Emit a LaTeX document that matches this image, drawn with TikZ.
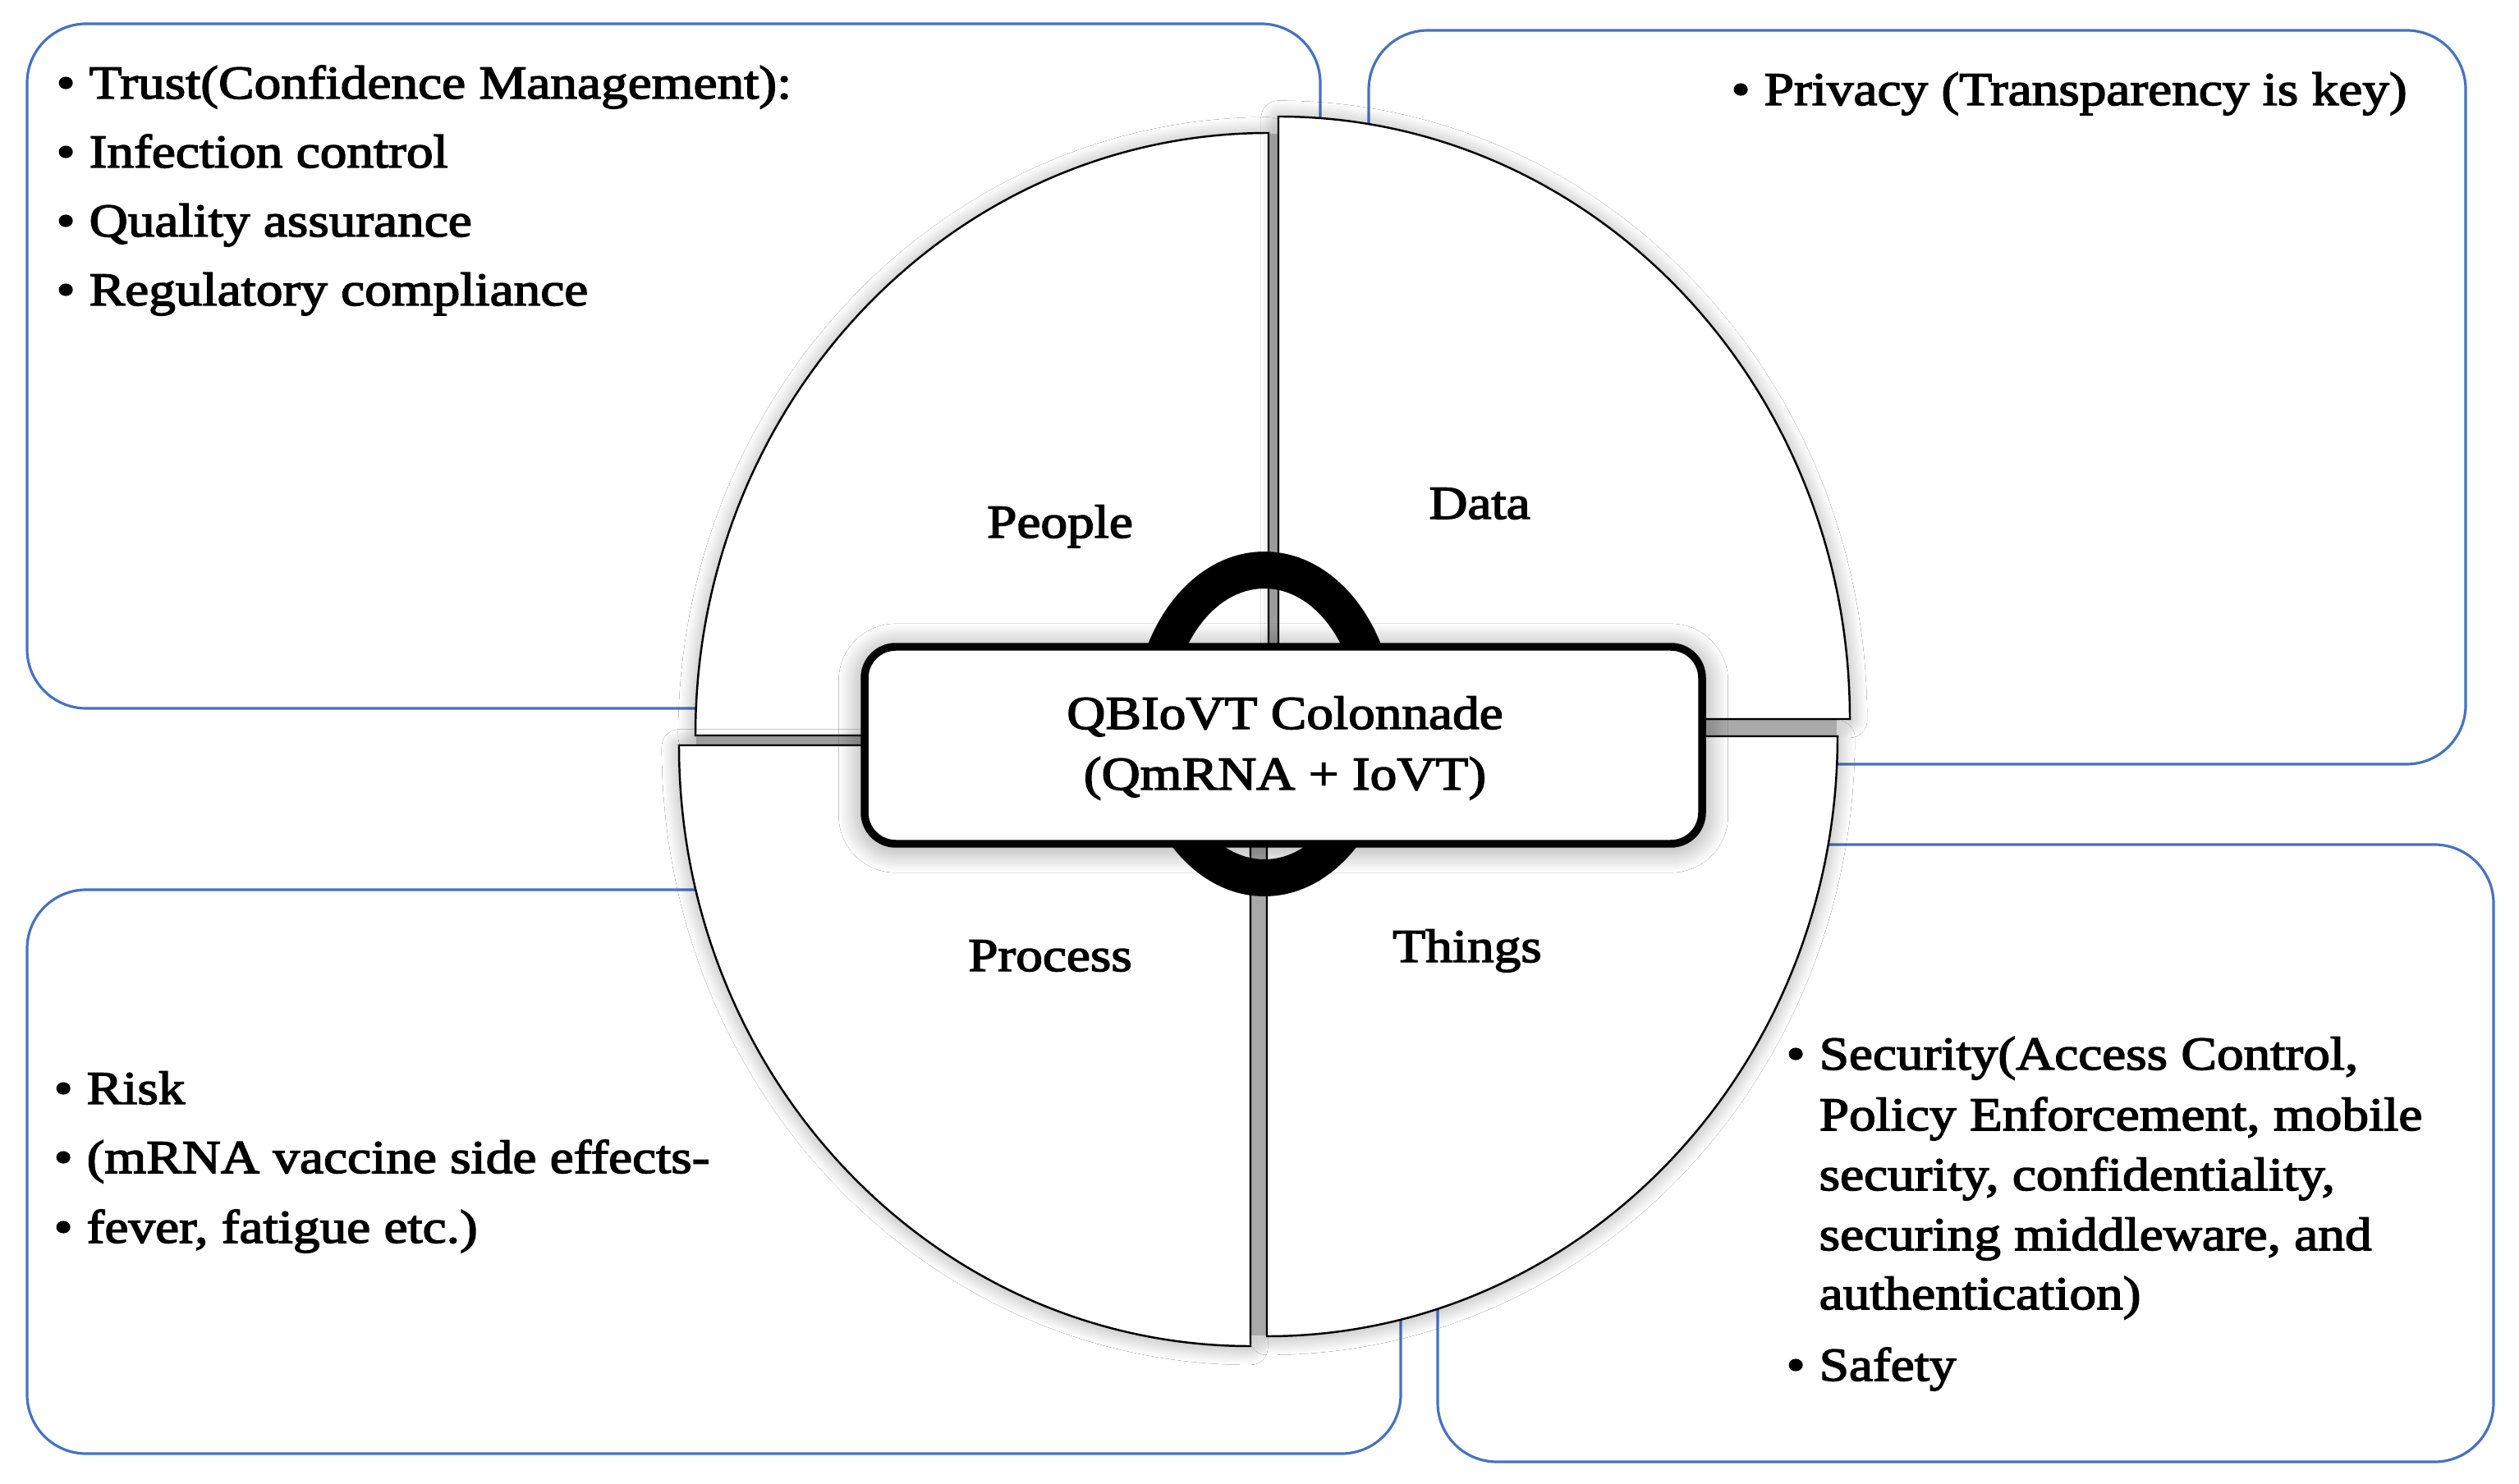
\documentclass[tikz,border=0pt]{standalone}
\usepackage{fontspec}
\setmainfont{Liberation Serif}[FakeStretch=1.14,FakeBold=2.6]
\usetikzlibrary{shadows.blur}
\definecolor{boxblue}{HTML}{4472C4}
\newcommand{\bul}{\makebox[0.40cm][l]{\textbullet}}
\tikzset{
  infobox/.style={draw=boxblue, line width=0.9pt, rounded corners=0.72cm, fill=white},
  gapfill/.style={fill=black!20},
  quad/.style={draw=black, line width=0.7pt, fill=white,
    blur shadow={shadow xshift=0pt, shadow yshift=-0.5pt, shadow blur radius=6pt, shadow blur steps=20, shadow opacity=35}},
  ring/.style={fill=black, even odd rule},
  corebox/.style={draw=black, line width=2.7pt, fill=white, rounded corners=0.38cm,
    minimum width=10.20cm, minimum height=2.40cm, inner sep=0pt,
    blur shadow={shadow xshift=0pt, shadow yshift=-1pt, shadow blur radius=9pt, shadow blur steps=20, shadow opacity=45}},
  txt/.style={inner sep=0pt, font=\fontsize{16.3}{20}\selectfont},
  item/.style={txt, anchor=base west},
  label/.style={txt, anchor=base},
}
\begin{document}
\begin{tikzpicture}
\useasboundingbox (0,0) rectangle (30.68,-18.08);
\fill[white] (0,0) rectangle (30.68,-18.08);

% outer information boxes
\draw[infobox] (0.33,-0.29) rectangle (16.08,-8.63);
\draw[infobox] (16.67,-0.37) rectangle (30.03,-9.31);
\draw[infobox] (0.33,-10.84) rectangle (17.06,-17.71);
\draw[infobox] (17.51,-10.29) rectangle (30.37,-17.81);

% quadrant centres
\coordinate (cP) at (15.45,-8.96);
\coordinate (cD) at (15.57,-8.76);
\coordinate (cR) at (15.23,-9.08);
\coordinate (cT) at (15.43,-8.97);

% gaps between quadrants
\fill[gapfill] (15.44,-1.63) rectangle (15.58,-8.97);
\fill[gapfill] (15.56,-8.75) rectangle (22.37,-8.98);
\fill[gapfill] (8.48,-8.95) rectangle (15.46,-9.09);
\fill[gapfill] (15.22,-9.07) rectangle (15.44,-16.27);

% quadrants
\path[quad] (cP) ++(-6.98,0) arc[start angle=180, end angle=90, x radius=6.98cm, y radius=7.34cm] -- (cP) -- cycle;
\path[quad] (cD) ++(0,7.34) arc[start angle=90, end angle=0, x radius=6.96cm, y radius=7.34cm] -- (cD) -- cycle;
\path[quad] (cR) ++(-6.96,0) arc[start angle=180, end angle=270, x radius=6.96cm, y radius=7.32cm] -- (cR) -- cycle;
\path[quad] (cT) ++(6.95,0) arc[start angle=0, end angle=-90, x radius=6.95cm, y radius=7.31cm] -- (cT) -- cycle;

% ring
\coordinate (rc) at (15.40,-8.82);
\fill[ring] (rc) ellipse [x radius=1.60cm, y radius=2.10cm] (rc) ellipse [x radius=1.15cm, y radius=1.65cm];

% core box
\node[corebox] (core) at (15.63,-9.08) {};
\node[label] (core1) at (15.65,-8.88) {QBIoVT Colonnade};
\node[label] (core2) at (15.65,-9.62) {(QmRNA + IoVT)};

% quadrant labels
\node[label] (people) at (12.91,-6.55) {People};
\node[label] (data) at (18.02,-6.32) {Data};
\node[label] (process) at (12.79,-11.83) {Process};
\node[label] (things) at (17.87,-11.72) {Things};

% top-left list
\node[item] (tl1) at (0.68,-1.20) {\bul Trust(Confidence Management):};
\node[item] (tl2) at (0.68,-2.04) {\bul Infection control};
\node[item] (tl3) at (0.68,-2.88) {\bul Quality assurance};
\node[item] (tl4) at (0.68,-3.72) {\bul Regulatory compliance};

% top-right list
\node[item] (tr1) at (21.08,-1.28) {\bul Privacy (Transparency is key)};

% bottom-left list
\node[item] (bl1) at (0.65,-13.45) {\bul Risk};
\node[item] (bl2) at (0.65,-14.29) {\bul (mRNA vaccine side effects-};
\node[item] (bl3) at (0.65,-15.14) {\bul fever, fatigue etc.)};

% bottom-right list
\node[item] (br1) at (21.75,-13.03) {\bul Security(Access Control,};
\node[item] (br2) at (22.15,-13.77) {Policy Enforcement, mobile};
\node[item] (br3) at (22.15,-14.50) {security, confidentiality,};
\node[item] (br4) at (22.15,-15.23) {securing middleware, and};
\node[item] (br5) at (22.15,-15.95) {authentication)};
\node[item] (br6) at (21.75,-16.82) {\bul Safety};
\end{tikzpicture}
\end{document}
